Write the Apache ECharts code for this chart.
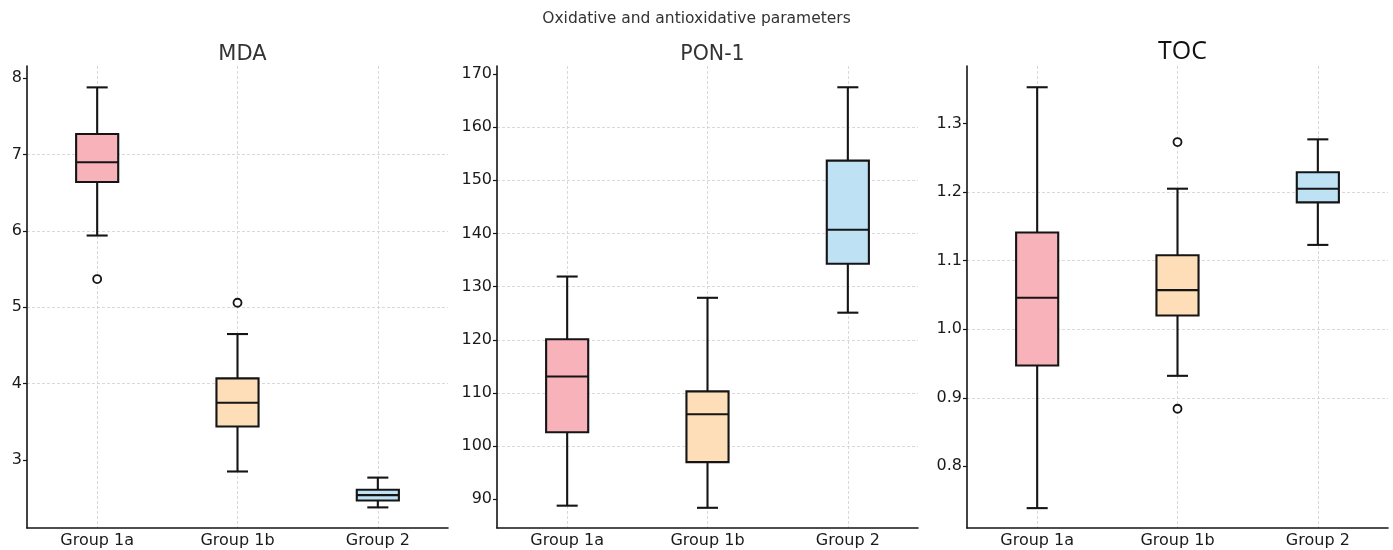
<!DOCTYPE html>
<html>
<head>
<meta charset="utf-8">
<script src="https://cdn.jsdelivr.net/npm/echarts@6/dist/echarts.min.js"></script>
<style>html,body{margin:0;padding:0;background:#fff}#c{width:1393px;height:550px}</style>
</head>
<body>
<div id="c"></div>
<script>
const categories = ['Group 1a', 'Group 1b', 'Group 2'];
const boxColors = ['#F8B2B9', '#FDDEB9', '#BEE1F4'];

// [lower whisker, Q1, median, Q3, upper whisker]
const mdaStats = [[5.94, 6.64, 6.90, 7.27, 7.88], [2.85, 3.44, 3.75, 4.07, 4.65], [2.38, 2.47, 2.54, 2.61, 2.77]];
const mdaOutliers = [[0, 5.37], [1, 5.06]];
const mdaTicks = [3, 4, 5, 6, 7, 8];

const ponStats = [[88.8, 102.6, 113.1, 120.1, 131.9], [88.4, 97.0, 106.0, 110.3, 127.9], [125.1, 134.3, 140.7, 153.7, 167.5]];
const ponOutliers = [];
const ponTicks = [90, 100, 110, 120, 130, 140, 150, 160, 170];

const tocStats = [[0.739, 0.947, 1.046, 1.141, 1.353], [0.932, 1.020, 1.057, 1.108, 1.205], [1.123, 1.185, 1.205, 1.229, 1.277]];
const tocOutliers = [[1, 1.273], [1, 0.884]];
const tocTicks = [0.8, 0.9, 1.0, 1.1, 1.2, 1.3];

const panels = [
  { title: 'MDA', stats: mdaStats, outliers: mdaOutliers, ticks: mdaTicks, min: 2.11, max: 8.16, left: 27, dec: 0, font: 'DejaVu Sans', tsize: 21, tcolor: '#333', ttop: 39 },
  { title: 'PON-1', stats: ponStats, outliers: ponOutliers, ticks: ponTicks, min: 84.6, max: 171.5, left: 497, dec: 0, font: 'DejaVu Sans', tsize: 20.5, tcolor: '#333', ttop: 39 },
  { title: 'TOC', stats: tocStats, outliers: tocOutliers, ticks: tocTicks, min: 0.71, max: 1.384, left: 967, dec: 1, font: 'Open Sans', tsize: 25, tcolor: '#111', ttop: 34 }
];

const LINE = '#151515';
const gridTop = 66, gridW = 421, gridH = 462;

function renderBox(params, api) {
  const i = api.value(0);
  const lo = api.coord([i, api.value(1)]);
  const q1 = api.coord([i, api.value(2)]);
  const md = api.coord([i, api.value(3)]);
  const q3 = api.coord([i, api.value(4)]);
  const hi = api.coord([i, api.value(5)]);
  const band = api.size([1, 0])[0];
  const bw = band * 0.3, cw = band * 0.15;
  const x = lo[0];
  const ls = { stroke: LINE, lineWidth: 2.1 };
  return {
    type: 'group',
    children: [
      { type: 'line', shape: { x1: x, y1: lo[1], x2: x, y2: q1[1] }, style: ls },
      { type: 'line', shape: { x1: x, y1: q3[1], x2: x, y2: hi[1] }, style: ls },
      { type: 'line', shape: { x1: x - cw / 2, y1: lo[1], x2: x + cw / 2, y2: lo[1] }, style: ls },
      { type: 'line', shape: { x1: x - cw / 2, y1: hi[1], x2: x + cw / 2, y2: hi[1] }, style: ls },
      { type: 'rect', shape: { x: x - bw / 2, y: q3[1], width: bw, height: q1[1] - q3[1] }, style: { fill: boxColors[i], stroke: LINE, lineWidth: 2.1 } },
      { type: 'line', shape: { x1: x - bw / 2, y1: md[1], x2: x + bw / 2, y2: md[1] }, style: ls }
    ]
  };
}

const option = {
  animation: false,
  backgroundColor: '#fff',
  title: [{ text: 'Oxidative and antioxidative parameters', left: 'center', top: 6, textStyle: { fontFamily: 'DejaVu Sans', fontSize: 15.5, fontWeight: 'normal', color: '#333' } }],
  grid: [], xAxis: [], yAxis: [], series: []
};

panels.forEach((p, k) => {
  option.title.push({ text: p.title, left: p.left + gridW / 2, textAlign: 'center', top: p.ttop, textStyle: { fontFamily: p.font, fontSize: p.tsize, fontWeight: 'normal', color: p.tcolor } });
  option.grid.push({ left: p.left, top: gridTop, width: gridW, height: gridH });
  option.xAxis.push({
    type: 'category', gridIndex: k, data: categories, boundaryGap: true,
    axisLine: { lineStyle: { color: LINE, width: 1.6 } },
    axisTick: { alignWithLabel: true, length: 4, lineStyle: { color: LINE, width: 1.2 } },
    axisLabel: { margin: 5, color: '#1a1a1a', fontFamily: 'DejaVu Sans', fontSize: 16 },
    splitLine: { show: true, alignWithLabel: true, lineStyle: { color: '#cfcfcf', type: [3, 2], width: 0.8 } }
  });
  option.yAxis.push({
    type: 'value', gridIndex: k, min: p.min, max: p.max,
    axisLine: { show: true, lineStyle: { color: LINE, width: 1.6 } },
    axisTick: { show: true, length: 4, customValues: p.ticks, lineStyle: { color: LINE, width: 1.2 } },
    axisLabel: { customValues: p.ticks, margin: 5, color: '#1a1a1a', fontFamily: 'DejaVu Sans', fontSize: 16, formatter: v => Number(v).toFixed(p.dec) },
    splitLine: { show: true, showMinLine: false, showMaxLine: false, lineStyle: { color: '#cfcfcf', type: [3, 2], width: 0.8 } }
  });
  option.series.push({
    type: 'custom', xAxisIndex: k, yAxisIndex: k,
    renderItem: renderBox,
    encode: { x: 0, y: [1, 2, 3, 4, 5] },
    data: p.stats.map((s, i) => [i].concat(s)),
    z: 3
  });
  option.series.push({
    type: 'scatter', xAxisIndex: k, yAxisIndex: k,
    data: p.outliers, symbol: 'circle', symbolSize: 8,
    itemStyle: { color: '#fff', borderColor: LINE, borderWidth: 1.8, opacity: 1 },
    z: 4
  });
});

const chart = echarts.init(document.getElementById('c'), null, { renderer: 'canvas' });
chart.setOption(option);
</script>
</body>
</html>
